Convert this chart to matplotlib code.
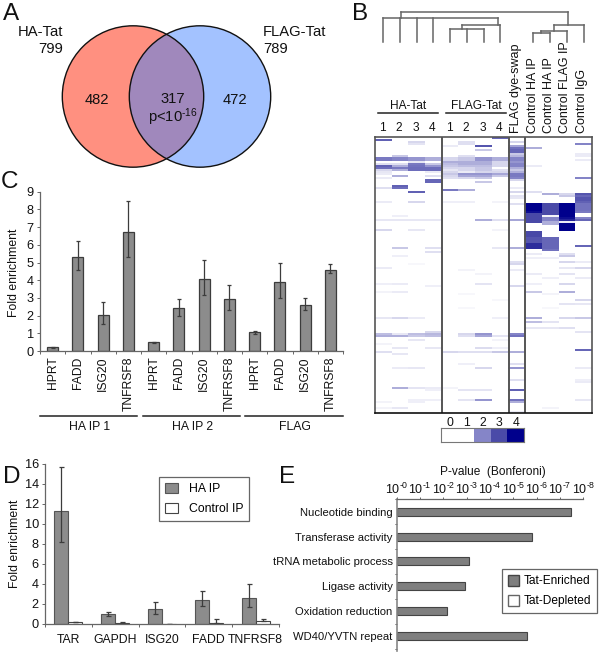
import matplotlib
matplotlib.use("Agg")
import matplotlib.pyplot as plt
import matplotlib.ticker
import numpy as np
from matplotlib.colors import LinearSegmentedColormap, ListedColormap
from matplotlib.patches import Circle, Patch

W, H = 600, 652
plt.rcParams["font.family"] = ["Liberation Sans", "DejaVu Sans"]
plt.rcParams["mathtext.fontset"] = "custom"
plt.rcParams["mathtext.rm"] = "Liberation Sans"
plt.rcParams["mathtext.default"] = "regular"

# ---------- data ----------
venn_counts = {"ha_total": 799, "flag_total": 789, "ha_only": 482, "both": 317, "flag_only": 472}

c_genes = ["HPRT", "FADD", "ISG20", "TNFRSF8"] * 3
c_groups = ["HA IP 1", "HA IP 2", "FLAG"]
c_values = [0.2, 5.3, 2.05, 6.75, 0.5, 2.45, 4.05, 2.95, 1.05, 3.9, 2.6, 4.6]
c_upper = [0.23, 6.2, 2.75, 8.5, 0.53, 2.95, 5.15, 3.75, 1.15, 5.0, 3.0, 4.9]
c_lower = [0.17, 4.55, 1.5, 5.3, 0.47, 2.0, 3.15, 2.3, 0.95, 3.0, 2.3, 4.4]

d_genes = ["TAR", "GAPDH", "ISG20", "FADD", "TNFRSF8"]
d_ha = [11.3, 1.0, 1.5, 2.45, 2.6]
d_ha_upper = [15.7, 1.25, 2.2, 3.3, 4.0]
d_ha_lower = [8.2, 0.8, 1.0, 1.8, 1.7]
d_ctrl = [0.2, 0.15, 0.02, 0.15, 0.35]
d_ctrl_upper = [0.25, 0.18, 0.02, 0.5, 0.5]

e_terms = ["Nucleotide binding", "Transferase activity", "tRNA metabolic process",
           "Ligase activity", "Oxidation reduction", "WD40/YVTN repeat"]
e_pvalues = [3.4e-8, 1.6e-6, 8e-4, 1.2e-3, 7e-3, 2.5e-6]

heat_columns = ["HA1", "HA2", "HA3", "HA4", "FL1", "FL2", "FL3", "FL4", "DYE", "C1", "C2", "C3", "C4"]
heat_n_rows = 138
# row -> {column index: level}
heat_entries = {
    0: {7: 2.5}, 1: {0: 2.6}, 2: {2: 1, 5: .8, 8: 1}, 3: {12: 2, 2: .7, 5: .8},
    4: {6: 2.8, 4: .5, 8: 1.6}, 5: {9: 1.5, 8: 2.3}, 6: {6: 1.2, 8: 2.5}, 7: {8: 2.5},
    8: {12: .5, 8: 1.2}, 9: {1: 1.2, 5: .8, 12: .5, 8: 1.4},
    10: {0: 2.2, 1: 2, 2: 1.8, 3: 1.5, 4: 1, 5: 1.2, 6: 1.8, 7: 1.5, 8: 2},
    11: {0: 2.2, 1: 2, 2: 1.8, 3: 1.5, 4: 1, 5: 1.2, 6: 1.8, 7: 1.5, 8: 2, 12: .5},
    12: {2: .6, 4: 1.5, 5: 1.5, 6: 1.5, 7: 1, 8: 1.8},
    13: {0: .8, 1: .8, 2: 2.2, 3: 1.2, 4: 1.3, 5: 1.5, 6: 1.5, 7: 1, 8: 2},
    14: {0: 2.6, 1: 1.5, 2: 2.3, 3: 1.8, 4: 1.2, 5: 1.3, 6: 1.3, 7: 1, 8: 2, 9: .5},
    15: {0: 2.4, 1: 2.2, 2: 2.4, 3: 2.4, 4: 1, 5: 1, 6: 1.2, 8: 1.5},
    16: {0: 1, 1: 1.5, 2: 2.4, 3: 2.4, 4: .6, 5: 1, 6: 1.2, 7: .8, 8: 1.2},
    17: {0: .6, 3: .5, 4: 1, 5: .5, 6: 1, 7: 1, 8: 1.5},
    18: {0: .5, 4: 1.2, 5: 1.8, 6: 1.8, 7: 1.6, 8: 2.2},
    19: {1: 1.5, 3: .8, 4: 1, 5: 1.6, 6: 1.6, 7: 1.2, 8: 2.2},
    20: {0: .5, 4: .8, 5: 1, 6: 1.2, 8: 2, 12: 2},
    21: {3: 2.5, 8: 1}, 22: {3: 2.5, 6: 1.2},
    24: {1: 2.6}, 25: {0: .8, 1: 2.4, 8: .5}, 26: {4: 2.2, 5: 1.5},
    27: {2: 2.6, 9: .8, 8: 1},
    28: {10: 1.5, 11: 1, 12: 2.8}, 29: {11: 1.2, 12: 2.5, 8: .7},
    30: {12: 2.8, 8: .6}, 31: {12: 2.8}, 32: {12: 2.6, 0: .5, 2: 1, 4: .4, 5: .4, 7: .3},
    33: {9: 4, 10: 3, 11: 4, 12: 2.3, 8: .8}, 34: {9: 4, 10: 3, 11: 4, 12: 2.3},
    35: {9: 4, 10: 3, 11: 4, 12: 2.3}, 36: {9: 4, 10: 3, 11: 4, 12: 2.3},
    37: {9: 3.8, 10: 3, 11: 4, 12: 2.2},
    38: {9: 3, 10: 3, 11: 4}, 39: {9: 3, 10: .3, 11: 4, 1: .4},
    40: {9: 3, 10: 2, 11: 3.8, 12: 2}, 41: {0: .6, 1: .6, 2: .6, 3: .6, 6: 1.5, 7: .8, 8: 1.6, 9: 3, 10: 2, 11: 3.5, 12: 2.5},
    42: {9: 3, 10: 1.5, 11: .5}, 43: {10: 1.5, 11: 4}, 44: {11: 4}, 45: {11: 4},
    46: {0: 1, 2: .6, 11: 4, 7: .3},
    47: {9: 3}, 48: {9: 3}, 49: {9: 3}, 50: {9: 2.8, 10: 2.5},
    51: {9: 2.8, 10: 2.5}, 52: {9: 2.8, 10: 2.5}, 53: {9: 3.4, 10: 2.5},
    54: {9: 3.4, 10: 2.5, 12: 2.5},
    55: {1: 1.2, 3: .8, 7: .6, 8: 1.5, 9: 3.4, 10: 2.5}, 56: {10: 2.3},
    57: {3: .8}, 58: {9: .5, 11: .8}, 59: {1: .4, 11: 1.2}, 60: {9: .4, 10: .4},
    62: {8: .8, 11: 1, 12: .5}, 63: {8: 1, 2: .2}, 65: {0: .5, 11: .6, 12: 1},
    66: {5: .3, 8: .5}, 68: {9: .5, 11: .7, 6: .3}, 70: {10: .4, 12: .5},
    73: {0: .4, 1: .5, 6: .7, 9: .4, 11: 1}, 74: {3: .4, 8: 1},
    77: {0: .3, 1: .5, 9: 1.2, 11: 1.5}, 78: {5: .2, 10: .3}, 81: {12: 1, 7: .2},
    83: {11: .7, 12: .6}, 85: {5: .2, 10: .2},
    90: {0: .6, 1: 1, 2: .5, 7: .4, 9: 1.5, 11: 1, 12: 1.2}, 92: {9: 1.3, 10: .7},
    95: {9: .6, 10: .6, 11: .8}, 97: {3: 1, 12: .7},
    98: {0: 1.3, 1: .6, 2: 1.3, 3: 1.4, 5: 1, 6: 1.8, 8: 2},
    99: {0: 1.5, 1: 1.5, 2: 1.2, 3: 1.3, 5: .8, 6: 1.6, 7: .7, 8: 2.3},
    101: {2: .6, 7: .3}, 103: {0: .3}, 105: {1: .6, 3: .6, 6: .9, 7: .4},
    106: {12: 2.5}, 107: {0: .8, 4: 1, 5: .8, 6: .8, 7: 1.2, 8: 1.5}, 108: {1: .6},
    113: {5: .4, 8: .8}, 115: {1: .5, 2: .6, 6: 1, 8: 1.8, 12: .5},
    121: {8: .8, 12: .4}, 122: {12: .5}, 125: {1: 1.5, 2: .7, 3: .5, 4: .3},
    126: {3: .4, 5: .7, 6: .7, 8: 2.6}, 131: {2: .4, 3: .4, 5: .7, 6: 1.8, 8: 2.3, 12: .6},
    132: {0: .3, 2: .4, 8: 1.5}, 135: {0: .3, 1: .6, 10: .3}, 137: {8: .5},
}
heat_levels = [0, 1, 2, 3, 4]
heat_legend_colors = ["#ffffff", "#ffffff", "#8585c8", "#4a4aa8", "#00008c"]

# Dendrogram: (height, anchor leaf, children); a number child is a leaf.
dendro_n2 = (13.3, 4.72, [4, 5, 6])
dendro_n1 = (17.3, 6.88, [dendro_n2, 7])
dendro_left = (24.0, 1.07, [0, 1, 2, 3, dendro_n1])
dendro_r2 = (9.7, 9.47, [8.98, 9.98])
dendro_r1 = (11.7, 10.24, [dendro_r2, 11])
dendro_right = (17.3, 11.09, [dendro_r1, 12])
dendro_root = (30.6, 6.0, [dendro_left, dendro_right])

BAR = "#8c8c8c"
EDGE = "#3c3c3c"
GREY = "#666666"
HYPHEN = "\u2010"

# ---------- helpers ----------
fig = plt.figure(figsize=(W / 100, H / 100), dpi=100, facecolor="white")


def axpx(x0, y0, x1, y1, **kw):
    return fig.add_axes([x0 / W, 1 - y1 / H, (x1 - x0) / W, (y1 - y0) / H], **kw)


def tpx(x, y, s, size=8.8, ha="center", va="center", **kw):
    return fig.text(x / W, 1 - y / H, s, fontsize=size, ha=ha, va=va, color="#111111", **kw)


def linepx(x0, x1, y, color="#222222", lw=1.1):
    fig.add_artist(plt.Line2D([x0 / W, x1 / W], [1 - y / H] * 2, color=color, lw=lw))


for letter, x, y in [("A", 3, 14), ("B", 352, 14), ("C", 1, 182), ("D", 3, 477), ("E", 279, 477)]:
    tpx(x, y, letter, size=17.5, ha="left")

# ---------- A: Venn ----------
ax = axpx(0, 0, 300, 180)
ax.set_xlim(0, 300)
ax.set_ylim(180, 0)
ax.axis("off")
ax.add_patch(Circle((133, 96.5), 70.7, fc="#ff9080", ec="none"))
ax.add_patch(Circle((200, 96.5), 70.7, fc="#a3c2ff", ec="none"))
overlap = Circle((133, 96.5), 70.7, fc="#a088bc", ec="none")
ax.add_patch(overlap)
overlap.set_clip_path(Circle((200, 96.5), 70.7, transform=ax.transData))
ax.add_patch(Circle((133, 96.5), 70.7, fc="none", ec="#111111", lw=1))
ax.add_patch(Circle((200, 96.5), 70.7, fc="none", ec="#111111", lw=1))
tpx(63, 32, "HA-Tat", size=10.6, ha="right")
tpx(63, 49, str(venn_counts["ha_total"]), size=10.6, ha="right")
tpx(263, 32, "FLAG-Tat", size=10.6, ha="left")
tpx(263, 49, str(venn_counts["flag_total"]), size=10.6, ha="left")
tpx(96.5, 100, str(venn_counts["ha_only"]), size=10.6)
tpx(172.5, 99, str(venn_counts["both"]), size=10.6)
tpx(173, 117, f"p<10$^{{{HYPHEN}16}}$", size=10.6)
tpx(235, 100, str(venn_counts["flag_only"]), size=10.6)

# ---------- B: dendrogram ----------
ax = axpx(375, 8, 592, 44)
ax.set_xlim(-0.5, 12.5)
ax.set_ylim(-1.7, 34.3)
ax.axis("off")


def draw_node(node):
    if not isinstance(node, tuple):
        return node, 0.0
    height, anchor, children = node
    xs = []
    for child in children:
        cx, ch = draw_node(child)
        ax.plot([cx, cx], [ch, height], color=GREY, lw=1.1, solid_capstyle="projecting")
        xs.append(cx)
    ax.plot([min(xs), max(xs)], [height, height], color=GREY, lw=1.1)
    return anchor, height


draw_node(dendro_root)

# ---------- B: heat map ----------
heat = np.zeros((heat_n_rows, len(heat_columns)))
for row, cols in heat_entries.items():
    for col, level in cols.items():
        heat[row, col] = level
cmap = LinearSegmentedColormap.from_list(
    "heat", [(0, "#ffffff"), (0.25, "#d8d8ee"), (0.5, "#8585c8"), (0.75, "#4a4aa8"), (1, "#00008c")])
ax = axpx(375, 137, 592, 413)
ax.imshow(heat, cmap=cmap, vmin=0, vmax=4, aspect="auto", interpolation="nearest",
          extent=(0, 13, heat_n_rows, 0))
ax.set_xticks([])
ax.set_yticks([])
for d in [4, 8, 9]:
    ax.axvline(d, color="#555555", lw=1.4)
for name, sp in ax.spines.items():
    sp.set_color("#555555")
    sp.set_linewidth(1.2)
ax.spines["bottom"].set_color("#111111")

for g, x0 in enumerate([375, 441.8]):
    for i in range(4):
        tpx(x0 + 16.6 * (i + 0.45), 128, str(i + 1), size=8.6)
tpx(408, 106, "HA-Tat", size=8.6)
linepx(378, 438, 113)
tpx(476, 106, "FLAG-Tat", size=8.6)
linepx(446, 506, 113)
for x, s in [(515.8, "FLAG dye-swap"), (532.5, "Control HA IP"), (548.8, "Control HA IP"),
             (565.2, "Control FLAG IP"), (581.6, "Control IgG")]:
    tpx(x, 133, s, size=9, rotation=90, va="bottom")

# ---------- B: colour key ----------
ax = axpx(441.3, 428.3, 524, 442.3)
ax.imshow(np.array([heat_levels]), cmap=ListedColormap(heat_legend_colors), aspect="auto",
          extent=(-0.5, 4.5, 1, 0))
ax.set_yticks([])
ax.xaxis.tick_top()
ax.set_xticks(heat_levels)
ax.set_xticklabels([str(v) for v in heat_levels], fontsize=8.8, color="#111111")
ax.tick_params(axis="x", length=0, pad=-0.5)
for sp in ax.spines.values():
    sp.set_color("#777777")
    sp.set_linewidth(0.8)

# ---------- C ----------
ax = axpx(40, 191.7, 343, 351)
x = np.arange(len(c_genes))
ax.bar(x, c_values, width=0.44, color=BAR, edgecolor=EDGE, lw=0.9)
ax.errorbar(x, c_values,
            yerr=[np.subtract(c_values, c_lower), np.subtract(c_upper, c_values)],
            fmt="none", ecolor=EDGE, elinewidth=0.9, capsize=1.7, capthick=0.9)
ax.set_xlim(-0.5, 11.5)
ax.set_ylim(0, 9)
ax.set_yticks(range(10))
ax.tick_params(axis="y", labelsize=9.2, length=2.5, width=0.7, color=GREY, pad=2, labelcolor="#111111")
ax.set_xticks(x)
ax.set_xticklabels(c_genes, rotation=90, fontsize=8.7, color="#111111")
ax.tick_params(axis="x", length=0, pad=4)
ax.set_xticks(np.arange(-0.5, 12), minor=True)
ax.tick_params(axis="x", which="minor", length=2.5, width=0.7, color=GREY)
for s in ["top", "right"]:
    ax.spines[s].set_visible(False)
for s in ["left", "bottom"]:
    ax.spines[s].set_color(GREY)
    ax.spines[s].set_linewidth(0.9)
tpx(14, 273, "Fold enrichment", size=8.8, rotation=90)
for i, g in enumerate(c_groups):
    x0 = 40 + i * 102.7
    linepx(x0, x0 + 97.3, 415.7)
    tpx(x0 + 49.5, 427, g, size=8.8)

# ---------- D ----------
ax = axpx(45, 464, 279, 624)
x = np.arange(len(d_genes))
bw = 0.3
ax.bar(x - bw / 2, d_ha, width=bw, color=BAR, edgecolor="#555555", lw=0.8, label="HA IP")
ax.bar(x + bw / 2, d_ctrl, width=bw, color="white", edgecolor="#444444", lw=0.8, label="Control IP")
ax.errorbar(x - bw / 2, d_ha, yerr=[np.subtract(d_ha, d_ha_lower), np.subtract(d_ha_upper, d_ha)],
            fmt="none", ecolor=EDGE, elinewidth=0.9, capsize=1.8, capthick=0.9)
ax.errorbar(x + bw / 2, d_ctrl, yerr=[np.zeros(5), np.subtract(d_ctrl_upper, d_ctrl)],
            fmt="none", ecolor=EDGE, elinewidth=0.9, capsize=1.8, capthick=0.9)
ax.set_xlim(-0.5, 4.5)
ax.set_ylim(0, 16)
ax.set_yticks(range(0, 17, 2))
ax.set_xticks(x)
ax.set_xticklabels(d_genes, fontsize=8.8, color="#111111")
ax.tick_params(axis="x", length=0, pad=7.5)
ax.set_xticks(np.arange(-0.5, 5), minor=True)
ax.tick_params(axis="x", which="minor", length=2, width=0.7, color=GREY)
ax.tick_params(axis="y", labelsize=9.2, length=2.5, width=0.7, color=GREY, pad=2, labelcolor="#111111")
for s in ["top", "right"]:
    ax.spines[s].set_visible(False)
for s in ["left", "bottom"]:
    ax.spines[s].set_color(GREY)
    ax.spines[s].set_linewidth(0.9)
tpx(15.5, 544, "Fold enrichment", size=8.8, rotation=90)
leg = ax.legend(loc="upper left", bbox_to_anchor=(159 / W, 1 - 477 / H), bbox_transform=fig.transFigure,
                fontsize=8.8, frameon=True, fancybox=False, edgecolor="#666666", framealpha=1,
                borderaxespad=0, borderpad=0.5, labelspacing=0.6, handlelength=1.07, handleheight=0.9,
                handletextpad=0.85)
leg.get_frame().set_linewidth(0.9)

# ---------- E ----------
ax = axpx(396.7, 499.3, 583.3, 651)
y = np.arange(len(e_terms))
ax.barh(y, np.subtract(e_pvalues, 1), left=1, height=0.32, color="#7f7f7f", edgecolor="#444444", lw=0.8)
ax.set_xscale("log")
ax.set_xlim(1, 1e-8)
ax.set_ylim(5.6, -0.38)
ax.xaxis.tick_top()
exps = list(range(0, 9))
ax.set_xticks([10.0 ** -e for e in exps])
ax.set_xticklabels([f"$10^{{{HYPHEN}{e}}}$" for e in exps], fontsize=9, color="#111111")
ax.xaxis.set_minor_locator(matplotlib.ticker.NullLocator())
ax.tick_params(axis="x", length=1.5, width=0.7, color=GREY, pad=0)
ax.set_yticks(y)
ax.set_yticklabels(e_terms, fontsize=8.1, color="#111111")
ax.tick_params(axis="y", length=0, pad=3)
ax.set_yticks(np.arange(-0.5, 6), minor=True)
ax.tick_params(axis="y", which="minor", length=1.5, width=0.7, color="#444444", direction="out")
for s in ["bottom", "right"]:
    ax.spines[s].set_visible(False)
ax.spines["top"].set_color(GREY)
ax.spines["top"].set_linewidth(0.9)
ax.spines["left"].set_color("#888888")
ax.spines["left"].set_linewidth(1.2)
tpx(493, 472, "P-value  (Bonferoni)", size=8.6)
handles = [Patch(fc="#7f7f7f", ec="#444444", label="Tat-Enriched"),
           Patch(fc="white", ec="#666666", label="Tat-Depleted")]
leg = ax.legend(handles=handles, loc="upper left", bbox_to_anchor=(502 / W, 1 - 569 / H),
                bbox_transform=fig.transFigure, fontsize=8.6, frameon=True, fancybox=False,
                edgecolor="#666666", framealpha=1, borderaxespad=0, borderpad=0.5, labelspacing=0.62,
                handlelength=0.95, handleheight=1.0, handletextpad=0.35)
leg.get_frame().set_linewidth(0.9)

fig.savefig("out.png", dpi=100, facecolor="white")
